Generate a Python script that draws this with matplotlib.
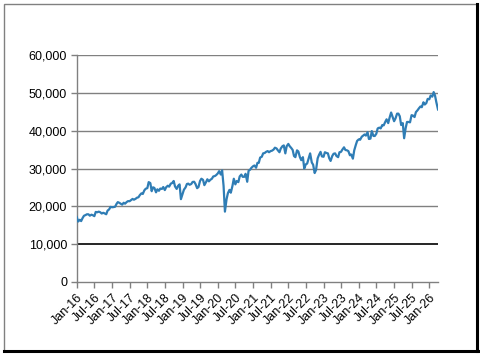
import matplotlib

matplotlib.use("Agg")
import matplotlib.dates as mdates
import matplotlib.pyplot as plt
import numpy as np
import pandas as pd
from matplotlib.lines import Line2D
from matplotlib.patches import Rectangle

plt.rcParams["font.family"] = ["Liberation Sans", "DejaVu Sans"]

# Index level, read on the 1st and 15th of each month (Jan 2016 .. Apr 2026)
START = "2016-01-01"
VALUES = [
    # 2016
    17150, 15990, 16450, 16100, 16900, 17500, 17700, 17900, 17890, 17530, 17790, 17650,
    17400, 18520, 18430, 18600, 18420, 18100, 18300, 18140, 17900, 18870, 19190, 19850,
    # 2017
    19760, 19800, 19890, 20610, 21115, 20950, 20660, 20450, 20950, 20700, 21140, 21380,
    21350, 21640, 21960, 21750, 21990, 22270, 22400, 22960, 23440, 23270, 24230, 24650,
    # 2018
    24820, 26400, 26150, 24000, 25030, 24870, 23700, 24500, 24100, 24700, 24600, 25100,
    24300, 25050, 25450, 25200, 26000, 26150, 26700, 25250, 24600, 25400, 25800, 21900,
    # 2019
    23300, 24400, 25000, 25900, 26000, 25700, 25900, 26450, 26500, 25900, 24800, 25100,
    26700, 27300, 27000, 25600, 26400, 27150, 26600, 27000, 27300, 27900, 28000, 28250,
    # 2020
    28700, 29300, 28400, 29500, 25400, 18600, 21900, 23500, 24350, 23600, 25400, 27300,
    25800, 26700, 26400, 27900, 28400, 27800, 27800, 28600, 26500, 29400, 29700, 30200,
    # 2021
    30600, 30800, 30200, 31500, 31500, 32900, 33100, 34000, 34100, 34400, 34600, 34300,
    34600, 34700, 35000, 35500, 35300, 34800, 34300, 35300, 35900, 36100, 34000, 35900,
    # 2022
    36500, 35900, 35400, 34900, 33300, 33000, 34800, 34500, 33000, 32200, 33000, 30000,
    31100, 31300, 32800, 34000, 31600, 31000, 28800, 29600, 32700, 33600, 34400, 33200,
    # 2023
    33100, 34300, 34100, 34000, 32700, 32000, 33300, 33900, 34000, 33300, 33000, 34300,
    34400, 35000, 35600, 34900, 34800, 34600, 33500, 33700, 32600, 34800, 36200, 37300,
    # 2024
    37700, 37600, 38400, 38700, 39000, 38700, 39600, 37800, 37900, 39900, 38600, 38600,
    39200, 40600, 40800, 40600, 41500, 41400, 42300, 43000, 42000, 43400, 44800, 43800,
    # 2025
    42500, 43200, 44500, 44500, 43800, 41500, 42000, 38000, 40700, 42300, 42300, 42200,
    44100, 44000, 43600, 44900, 45400, 45900, 46400, 46200, 47500, 46900, 47300, 48400,
    # 2026
    48300, 49300, 49000, 50200, 49300, 47500, 45600,
]
Y_TICKS = [0, 10000, 20000, 30000, 40000, 50000, 60000]
X_TICKS = pd.date_range("2016-01-01", "2026-01-01", freq="6MS")

dates = pd.date_range(START, periods=len(VALUES), freq="SMS")
values = np.array(VALUES)

fig = plt.figure(figsize=(4.8, 3.54), dpi=100)
ax = fig.add_axes([0.160, 0.2034, 0.7525, 0.6412])

for y in Y_TICKS[2:]:
    ax.axhline(y, color="#808080", lw=1.0, zorder=1)
ax.axhline(10000, color="black", lw=1.2, zorder=1)

ax.plot(dates, values, color="#2f7db5", lw=1.6, zorder=3)

ax.set_ylim(0, 60000)
ax.set_xlim(dates[0], dates[-1])
ax.set_yticks(Y_TICKS)
ax.yaxis.set_major_formatter(matplotlib.ticker.FuncFormatter(lambda v, p: f"{v:,.0f}"))
ax.set_xticks(X_TICKS)
ax.xaxis.set_major_formatter(mdates.DateFormatter("%b-%y"))

for s in ("top", "right"):
    ax.spines[s].set_visible(False)
for s in ("left", "bottom"):
    ax.spines[s].set_color("#808080")
    ax.spines[s].set_linewidth(1.0)

ax.tick_params(axis="both", direction="out", length=4, width=1.0, color="#808080",
               labelsize=9, labelcolor="black")
ax.tick_params(axis="y", pad=3)
ax.tick_params(axis="x", pad=3)
for lbl in ax.get_xticklabels():
    lbl.set_rotation(45)
    lbl.set_ha("right")
    lbl.set_rotation_mode("anchor")

# chart border: grey frame with dark shadow on right/bottom
fig.patches.append(Rectangle((3.5 / 480, 3.5 / 354), 473 / 480, 346.5 / 354,
                             transform=fig.transFigure, fill=False,
                             edgecolor="#808080", lw=1.0))
fig.lines.append(Line2D([477 / 480, 477 / 480], [3.5 / 354, 1 - 3.5 / 354],
                        transform=fig.transFigure, color="black", lw=2.2))
fig.lines.append(Line2D([3.5 / 480, 478 / 480], [3.5 / 354, 3.5 / 354],
                        transform=fig.transFigure, color="black", lw=2.2))

fig.savefig("out.png", dpi=100)
